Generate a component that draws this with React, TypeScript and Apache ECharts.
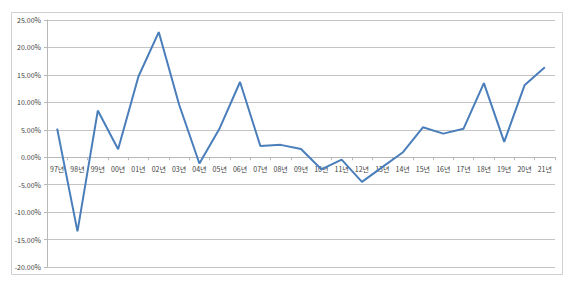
import React, { useEffect, useRef } from "react";
import * as echarts from "echarts";

const categories = ["97년","98년","99년","00년","01년","02년","03년","04년","05년","06년","07년","08년","09년","10년","11년","12년","13년","14년","15년","16년","17년","18년","19년","20년","21년"];
const values = [5.2, -13.5, 8.5, 1.45, 14.7, 22.8, 9.6, -1.15, 5.3, 13.7, 2.05, 2.25, 1.5, -2.2, -0.45, -4.5, -1.8, 0.85, 5.45, 4.3, 5.2, 13.5, 2.8, 13.1, 16.4];
const yMin = -20;
const yMax = 25;
const yStep = 5;

export default function App() {
  const ref = useRef<HTMLDivElement>(null);
  useEffect(() => {
    if (!ref.current) return;
    const chart = echarts.init(ref.current, undefined, { renderer: "svg" });
    const font = "'Noto Sans CJK KR', 'Noto Sans', sans-serif";
    chart.setOption({
      animation: false,
      backgroundColor: "#ffffff",
      graphic: [
        {
          type: "rect",
          shape: { x: 11.5, y: 12.5, width: 551, height: 262 },
          style: { fill: "none", stroke: "#d0d0d0", lineWidth: 1 },
          silent: true,
        },
      ],
      grid: { left: 47, right: 25, top: 20, bottom: 22, containLabel: false },
      xAxis: {
        type: "category",
        data: categories,
        boundaryGap: true,
        position: "bottom",
        offset: 0,
        axisLine: { onZero: false, lineStyle: { color: "#b8b8b8", width: 1 } },
        axisTick: { show: true, interval: 0, length: 3, lineStyle: { color: "#b8b8b8" } },
        axisLabel: { interval: 0, margin: 8, fontSize: 7, color: "#404040", fontFamily: font },
        splitLine: { show: false },
      },
      yAxis: {
        type: "value",
        min: yMin,
        max: yMax,
        interval: yStep,
        axisLine: { show: true, lineStyle: { color: "#b8b8b8", width: 1 } },
        axisTick: { show: true, length: 3, lineStyle: { color: "#b8b8b8" } },
        axisLabel: {
          margin: 6,
          fontSize: 7,
          color: "#404040",
          fontFamily: font,
          formatter: (v: number) => v.toFixed(2) + "%",
        },
        splitLine: { show: true, lineStyle: { color: "#c4c4c4", width: 1 } },
      },
      series: [
        {
          type: "line",
          data: values,
          symbol: "none",
          lineStyle: { color: "#4a7ebb", width: 2 },
          itemStyle: { color: "#4a7ebb" },
        },
      ],
    });
    const zeroY = chart.convertToPixel({ yAxisIndex: 0 }, 0) as number;
    const bottomY = chart.convertToPixel({ yAxisIndex: 0 }, yMin) as number;
    chart.setOption({ xAxis: { offset: -(bottomY - zeroY) } });
    return () => chart.dispose();
  }, []);
  return (
    <div
      ref={ref}
      style={{ position: "fixed", left: 0, top: 0, width: 580, height: 289, background: "#fff" }}
    />
  );
}
